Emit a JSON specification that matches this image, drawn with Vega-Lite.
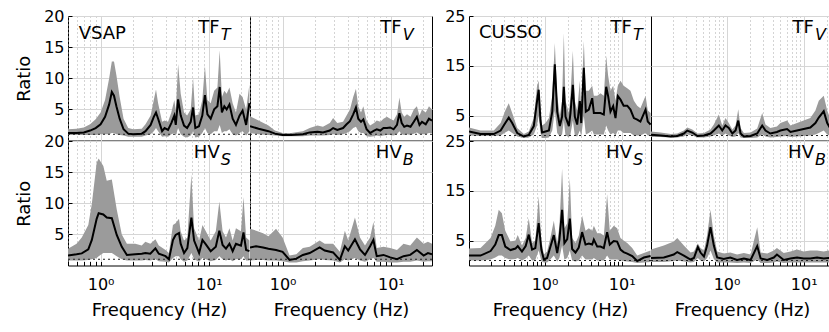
{
"$schema": "https://vega.github.io/schema/vega-lite/v6.json",
"autosize": {"type": "pad"},
"padding": {"left": 15, "top": 7, "right": 0, "bottom": 0},
"spacing": 11,
"datasets": {
"vsap": [
{"k":"label","r":"TF","c":1,"main":"TF","sub":"T"},
{"k":"label","r":"TF","c":2,"main":"TF","sub":"V"},
{"k":"label","r":"HV","c":1,"main":"HV","sub":"S"},
{"k":"label","r":"HV","c":2,"main":"HV","sub":"B"},
{"k":"site","r":"TF","c":1,"name":"VSAP"},
{"r":"TF","c":1,"f":0.5,"m":1.2,"lo":0.9,"hi":1.8},
{"r":"TF","c":1,"f":0.6,"m":1.2,"lo":0.9,"hi":1.9},
{"r":"TF","c":1,"f":0.7,"m":1.3,"lo":0.9,"hi":2.1},
{"r":"TF","c":1,"f":0.8,"m":1.6,"lo":0.9,"hi":2.6},
{"r":"TF","c":1,"f":0.9,"m":2.0,"lo":0.9,"hi":3.4},
{"r":"TF","c":1,"f":1.0,"m":2.6,"lo":1.0,"hi":4.5},
{"r":"TF","c":1,"f":1.1,"m":3.8,"lo":1.0,"hi":6.5},
{"r":"TF","c":1,"f":1.2,"m":5.8,"lo":1.0,"hi":10.0},
{"r":"TF","c":1,"f":1.27,"m":7.8,"lo":1.2,"hi":12.7},
{"r":"TF","c":1,"f":1.33,"m":7.2,"lo":1.2,"hi":12.7},
{"r":"TF","c":1,"f":1.4,"m":5.5,"lo":1.0,"hi":10.5},
{"r":"TF","c":1,"f":1.5,"m":3.5,"lo":0.9,"hi":7.0},
{"r":"TF","c":1,"f":1.63,"m":1.8,"lo":0.8,"hi":3.5},
{"r":"TF","c":1,"f":1.8,"m":1.1,"lo":0.6,"hi":2.0},
{"r":"TF","c":1,"f":2.0,"m":1.0,"lo":0.6,"hi":1.8},
{"r":"TF","c":1,"f":2.4,"m":1.1,"lo":0.6,"hi":1.9},
{"r":"TF","c":1,"f":2.6,"m":1.5,"lo":0.8,"hi":2.6},
{"r":"TF","c":1,"f":2.9,"m":2.5,"lo":1.0,"hi":4.0},
{"r":"TF","c":1,"f":3.1,"m":3.8,"lo":1.5,"hi":6.5},
{"r":"TF","c":1,"f":3.25,"m":4.5,"lo":2.0,"hi":8.2},
{"r":"TF","c":1,"f":3.4,"m":3.5,"lo":1.5,"hi":6.0},
{"r":"TF","c":1,"f":3.7,"m":1.5,"lo":0.6,"hi":3.0},
{"r":"TF","c":1,"f":3.9,"m":2.0,"lo":0.7,"hi":3.2},
{"r":"TF","c":1,"f":4.2,"m":1.7,"lo":0.6,"hi":3.0},
{"r":"TF","c":1,"f":4.5,"m":2.8,"lo":1.0,"hi":4.5},
{"r":"TF","c":1,"f":4.8,"m":4.0,"lo":1.2,"hi":6.5},
{"r":"TF","c":1,"f":4.95,"m":2.5,"lo":0.8,"hi":4.8},
{"r":"TF","c":1,"f":5.2,"m":6.6,"lo":2.0,"hi":12.3},
{"r":"TF","c":1,"f":5.5,"m":4.0,"lo":1.0,"hi":7.5},
{"r":"TF","c":1,"f":5.9,"m":2.4,"lo":0.6,"hi":4.5},
{"r":"TF","c":1,"f":6.3,"m":2.0,"lo":0.5,"hi":4.0},
{"r":"TF","c":1,"f":6.8,"m":3.0,"lo":0.8,"hi":5.0},
{"r":"TF","c":1,"f":7.15,"m":5.3,"lo":1.5,"hi":10.0},
{"r":"TF","c":1,"f":7.5,"m":2.0,"lo":0.5,"hi":4.0},
{"r":"TF","c":1,"f":8.1,"m":2.3,"lo":0.6,"hi":4.2},
{"r":"TF","c":1,"f":8.7,"m":4.0,"lo":1.2,"hi":6.5},
{"r":"TF","c":1,"f":9.2,"m":7.3,"lo":2.0,"hi":12.0},
{"r":"TF","c":1,"f":9.7,"m":4.2,"lo":1.2,"hi":6.5},
{"r":"TF","c":1,"f":10.4,"m":3.5,"lo":1.0,"hi":6.0},
{"r":"TF","c":1,"f":11.2,"m":5.0,"lo":1.5,"hi":8.0},
{"r":"TF","c":1,"f":12.0,"m":5.5,"lo":1.5,"hi":8.5},
{"r":"TF","c":1,"f":12.6,"m":8.6,"lo":2.5,"hi":14.5},
{"r":"TF","c":1,"f":13.2,"m":4.5,"lo":1.2,"hi":7.0},
{"r":"TF","c":1,"f":13.9,"m":5.5,"lo":1.5,"hi":8.0},
{"r":"TF","c":1,"f":14.6,"m":5.0,"lo":1.5,"hi":7.5},
{"r":"TF","c":1,"f":15.5,"m":5.8,"lo":1.8,"hi":8.5},
{"r":"TF","c":1,"f":16.6,"m":3.5,"lo":1.0,"hi":6.0},
{"r":"TF","c":1,"f":17.8,"m":2.5,"lo":0.8,"hi":4.5},
{"r":"TF","c":1,"f":19.2,"m":4.0,"lo":1.2,"hi":7.5},
{"r":"TF","c":1,"f":20.5,"m":4.8,"lo":1.5,"hi":7.0},
{"r":"TF","c":1,"f":22.1,"m":2.5,"lo":0.8,"hi":5.0},
{"r":"TF","c":1,"f":23.7,"m":6.0,"lo":1.5,"hi":9.0},
{"r":"TF","c":2,"f":0.5,"m":2.3,"lo":1.2,"hi":3.9},
{"r":"TF","c":2,"f":0.6,"m":1.9,"lo":1.0,"hi":3.2},
{"r":"TF","c":2,"f":0.74,"m":1.5,"lo":0.9,"hi":2.4},
{"r":"TF","c":2,"f":0.85,"m":1.1,"lo":0.8,"hi":1.6},
{"r":"TF","c":2,"f":1.0,"m":0.9,"lo":0.7,"hi":1.2},
{"r":"TF","c":2,"f":1.2,"m":0.9,"lo":0.7,"hi":1.2},
{"r":"TF","c":2,"f":1.54,"m":1.0,"lo":0.7,"hi":1.5},
{"r":"TF","c":2,"f":1.78,"m":1.3,"lo":0.8,"hi":2.0},
{"r":"TF","c":2,"f":2.1,"m":1.4,"lo":0.8,"hi":2.4},
{"r":"TF","c":2,"f":2.36,"m":1.3,"lo":0.8,"hi":2.2},
{"r":"TF","c":2,"f":2.73,"m":1.6,"lo":0.9,"hi":2.8},
{"r":"TF","c":2,"f":2.93,"m":2.0,"lo":1.0,"hi":3.6},
{"r":"TF","c":2,"f":3.2,"m":1.7,"lo":0.9,"hi":2.8},
{"r":"TF","c":2,"f":3.62,"m":2.0,"lo":1.0,"hi":3.0},
{"r":"TF","c":2,"f":3.9,"m":2.6,"lo":1.2,"hi":4.0},
{"r":"TF","c":2,"f":4.19,"m":3.1,"lo":1.5,"hi":5.0},
{"r":"TF","c":2,"f":4.49,"m":4.2,"lo":2.0,"hi":7.0},
{"r":"TF","c":2,"f":4.76,"m":5.3,"lo":2.2,"hi":8.3},
{"r":"TF","c":2,"f":5.0,"m":3.5,"lo":1.5,"hi":5.5},
{"r":"TF","c":2,"f":5.3,"m":3.0,"lo":1.2,"hi":4.5},
{"r":"TF","c":2,"f":5.57,"m":3.4,"lo":1.2,"hi":5.5},
{"r":"TF","c":2,"f":5.97,"m":1.8,"lo":0.7,"hi":3.2},
{"r":"TF","c":2,"f":6.43,"m":1.2,"lo":0.6,"hi":2.4},
{"r":"TF","c":2,"f":7.0,"m":1.6,"lo":0.7,"hi":2.8},
{"r":"TF","c":2,"f":7.41,"m":1.8,"lo":0.8,"hi":3.2},
{"r":"TF","c":2,"f":8.0,"m":1.6,"lo":0.7,"hi":3.0},
{"r":"TF","c":2,"f":8.55,"m":2.0,"lo":0.8,"hi":3.5},
{"r":"TF","c":2,"f":9.2,"m":2.0,"lo":0.9,"hi":3.8},
{"r":"TF","c":2,"f":9.86,"m":2.1,"lo":0.9,"hi":3.5},
{"r":"TF","c":2,"f":10.6,"m":1.8,"lo":0.8,"hi":3.2},
{"r":"TF","c":2,"f":11.4,"m":2.5,"lo":1.0,"hi":4.2},
{"r":"TF","c":2,"f":12.0,"m":4.4,"lo":1.5,"hi":6.9},
{"r":"TF","c":2,"f":12.6,"m":2.8,"lo":1.0,"hi":4.5},
{"r":"TF","c":2,"f":13.3,"m":2.2,"lo":0.9,"hi":3.8},
{"r":"TF","c":2,"f":14.1,"m":2.4,"lo":1.0,"hi":4.2},
{"r":"TF","c":2,"f":15.2,"m":2.2,"lo":0.9,"hi":3.8},
{"r":"TF","c":2,"f":16.3,"m":3.0,"lo":1.1,"hi":5.0},
{"r":"TF","c":2,"f":17.4,"m":3.8,"lo":1.3,"hi":5.5},
{"r":"TF","c":2,"f":18.4,"m":2.5,"lo":1.0,"hi":4.0},
{"r":"TF","c":2,"f":19.4,"m":3.0,"lo":1.0,"hi":5.0},
{"r":"TF","c":2,"f":21.0,"m":2.6,"lo":1.0,"hi":4.5},
{"r":"TF","c":2,"f":22.5,"m":3.5,"lo":1.2,"hi":5.5},
{"r":"TF","c":2,"f":24.0,"m":3.2,"lo":1.2,"hi":5.0},
{"r":"HV","c":1,"f":0.5,"m":1.6,"lo":0.8,"hi":2.7},
{"r":"HV","c":1,"f":0.6,"m":1.8,"lo":0.8,"hi":3.5},
{"r":"HV","c":1,"f":0.67,"m":1.95,"lo":0.8,"hi":4.5},
{"r":"HV","c":1,"f":0.77,"m":2.6,"lo":0.9,"hi":6.5},
{"r":"HV","c":1,"f":0.83,"m":4.1,"lo":1.0,"hi":9.9},
{"r":"HV","c":1,"f":0.92,"m":7.5,"lo":1.2,"hi":16.5},
{"r":"HV","c":1,"f":0.96,"m":8.4,"lo":1.5,"hi":17.2},
{"r":"HV","c":1,"f":1.06,"m":8.2,"lo":2.0,"hi":16.0},
{"r":"HV","c":1,"f":1.14,"m":7.7,"lo":2.0,"hi":13.6},
{"r":"HV","c":1,"f":1.27,"m":7.6,"lo":2.0,"hi":13.8},
{"r":"HV","c":1,"f":1.41,"m":4.9,"lo":1.5,"hi":9.0},
{"r":"HV","c":1,"f":1.57,"m":3.0,"lo":1.0,"hi":5.0},
{"r":"HV","c":1,"f":1.75,"m":1.7,"lo":0.8,"hi":3.5},
{"r":"HV","c":1,"f":2.09,"m":1.8,"lo":0.8,"hi":3.5},
{"r":"HV","c":1,"f":2.4,"m":1.9,"lo":0.8,"hi":3.2},
{"r":"HV","c":1,"f":2.59,"m":2.0,"lo":0.9,"hi":3.8},
{"r":"HV","c":1,"f":2.88,"m":1.9,"lo":0.8,"hi":3.5},
{"r":"HV","c":1,"f":3.21,"m":2.75,"lo":1.0,"hi":4.2},
{"r":"HV","c":1,"f":3.45,"m":1.9,"lo":0.7,"hi":3.2},
{"r":"HV","c":1,"f":3.98,"m":1.5,"lo":0.6,"hi":2.5},
{"r":"HV","c":1,"f":4.28,"m":1.0,"lo":0.5,"hi":2.0},
{"r":"HV","c":1,"f":4.66,"m":4.1,"lo":1.2,"hi":6.5},
{"r":"HV","c":1,"f":4.93,"m":4.9,"lo":1.5,"hi":6.8},
{"r":"HV","c":1,"f":5.3,"m":5.2,"lo":1.5,"hi":7.5},
{"r":"HV","c":1,"f":5.49,"m":3.5,"lo":1.0,"hi":5.5},
{"r":"HV","c":1,"f":5.9,"m":2.0,"lo":0.6,"hi":4.0},
{"r":"HV","c":1,"f":6.33,"m":2.8,"lo":0.8,"hi":4.5},
{"r":"HV","c":1,"f":6.9,"m":7.7,"lo":2.0,"hi":14.6},
{"r":"HV","c":1,"f":7.31,"m":4.0,"lo":1.0,"hi":6.0},
{"r":"HV","c":1,"f":8.13,"m":2.0,"lo":0.6,"hi":4.0},
{"r":"HV","c":1,"f":8.73,"m":4.1,"lo":1.2,"hi":6.5},
{"r":"HV","c":1,"f":9.38,"m":3.4,"lo":1.0,"hi":5.5},
{"r":"HV","c":1,"f":10.4,"m":2.3,"lo":0.7,"hi":4.0},
{"r":"HV","c":1,"f":11.6,"m":3.0,"lo":0.9,"hi":5.5},
{"r":"HV","c":1,"f":12.5,"m":5.6,"lo":1.5,"hi":10.3},
{"r":"HV","c":1,"f":13.4,"m":3.3,"lo":1.0,"hi":5.5},
{"r":"HV","c":1,"f":14.4,"m":2.7,"lo":0.8,"hi":4.5},
{"r":"HV","c":1,"f":15.5,"m":3.5,"lo":1.0,"hi":6.0},
{"r":"HV","c":1,"f":16.6,"m":2.3,"lo":0.7,"hi":4.0},
{"r":"HV","c":1,"f":17.8,"m":3.5,"lo":1.0,"hi":6.0},
{"r":"HV","c":1,"f":19.8,"m":3.2,"lo":1.0,"hi":5.5},
{"r":"HV","c":1,"f":20.9,"m":5.3,"lo":1.5,"hi":11.0},
{"r":"HV","c":1,"f":22.1,"m":2.5,"lo":0.8,"hi":4.5},
{"r":"HV","c":1,"f":23.7,"m":2.3,"lo":0.8,"hi":4.0},
{"r":"HV","c":2,"f":0.5,"m":2.9,"lo":0.8,"hi":5.9},
{"r":"HV","c":2,"f":0.57,"m":3.1,"lo":0.9,"hi":5.6},
{"r":"HV","c":2,"f":0.66,"m":2.9,"lo":0.9,"hi":5.2},
{"r":"HV","c":2,"f":0.74,"m":2.7,"lo":0.8,"hi":4.7},
{"r":"HV","c":2,"f":0.87,"m":2.5,"lo":0.8,"hi":5.9},
{"r":"HV","c":2,"f":1.0,"m":2.2,"lo":0.7,"hi":4.5},
{"r":"HV","c":2,"f":1.16,"m":0.9,"lo":0.5,"hi":1.6},
{"r":"HV","c":2,"f":1.34,"m":1.1,"lo":0.5,"hi":1.8},
{"r":"HV","c":2,"f":1.54,"m":1.7,"lo":0.7,"hi":2.8},
{"r":"HV","c":2,"f":1.78,"m":2.0,"lo":0.8,"hi":3.0},
{"r":"HV","c":2,"f":2.2,"m":2.9,"lo":1.0,"hi":4.0},
{"r":"HV","c":2,"f":2.45,"m":2.4,"lo":0.9,"hi":3.5},
{"r":"HV","c":2,"f":2.93,"m":2.1,"lo":0.8,"hi":3.5},
{"r":"HV","c":2,"f":3.38,"m":0.9,"lo":0.5,"hi":2.2},
{"r":"HV","c":2,"f":3.76,"m":3.1,"lo":1.0,"hi":5.6},
{"r":"HV","c":2,"f":4.04,"m":2.4,"lo":0.8,"hi":4.0},
{"r":"HV","c":2,"f":4.66,"m":4.2,"lo":1.2,"hi":7.7},
{"r":"HV","c":2,"f":5.19,"m":2.6,"lo":0.8,"hi":4.5},
{"r":"HV","c":2,"f":5.77,"m":1.7,"lo":0.6,"hi":3.2},
{"r":"HV","c":2,"f":6.43,"m":3.1,"lo":1.0,"hi":4.5},
{"r":"HV","c":2,"f":6.9,"m":4.1,"lo":1.2,"hi":7.0},
{"r":"HV","c":2,"f":7.41,"m":1.5,"lo":0.6,"hi":2.8},
{"r":"HV","c":2,"f":8.55,"m":1.7,"lo":0.6,"hi":3.0},
{"r":"HV","c":2,"f":9.86,"m":1.3,"lo":0.5,"hi":2.8},
{"r":"HV","c":2,"f":11.4,"m":1.0,"lo":0.5,"hi":2.5},
{"r":"HV","c":2,"f":13.1,"m":1.5,"lo":0.6,"hi":3.5},
{"r":"HV","c":2,"f":15.1,"m":1.7,"lo":0.6,"hi":3.2},
{"r":"HV","c":2,"f":17.4,"m":2.5,"lo":0.8,"hi":4.5},
{"r":"HV","c":2,"f":20.1,"m":1.6,"lo":0.6,"hi":3.5},
{"r":"HV","c":2,"f":22.0,"m":2.0,"lo":0.7,"hi":3.8},
{"r":"HV","c":2,"f":24.0,"m":1.8,"lo":0.7,"hi":3.5}
],
"cusso": [
{"k":"label","r":"TF","c":1,"main":"TF","sub":"T"},
{"k":"label","r":"TF","c":2,"main":"TF","sub":"V"},
{"k":"label","r":"HV","c":1,"main":"HV","sub":"S"},
{"k":"label","r":"HV","c":2,"main":"HV","sub":"B"},
{"k":"site","r":"TF","c":1,"name":"CUSSO"},
{"r":"TF","c":1,"f":0.105,"m":1.8,"lo":1.0,"hi":2.6},
{"r":"TF","c":1,"f":0.148,"m":1.3,"lo":0.9,"hi":2.0},
{"r":"TF","c":1,"f":0.22,"m":1.3,"lo":0.9,"hi":2.0},
{"r":"TF","c":1,"f":0.27,"m":2.0,"lo":1.0,"hi":3.5},
{"r":"TF","c":1,"f":0.31,"m":3.5,"lo":1.6,"hi":6.0},
{"r":"TF","c":1,"f":0.344,"m":4.6,"lo":2.0,"hi":7.5},
{"r":"TF","c":1,"f":0.381,"m":3.5,"lo":1.5,"hi":5.5},
{"r":"TF","c":1,"f":0.443,"m":1.5,"lo":0.8,"hi":2.5},
{"r":"TF","c":1,"f":0.54,"m":0.8,"lo":0.5,"hi":1.3},
{"r":"TF","c":1,"f":0.625,"m":1.1,"lo":0.6,"hi":1.8},
{"r":"TF","c":1,"f":0.726,"m":2.9,"lo":1.2,"hi":4.5},
{"r":"TF","c":1,"f":0.8,"m":7.9,"lo":3.0,"hi":11.0},
{"r":"TF","c":1,"f":0.84,"m":10.2,"lo":5.0,"hi":12.0},
{"r":"TF","c":1,"f":0.887,"m":4.0,"lo":1.5,"hi":6.0},
{"r":"TF","c":1,"f":0.93,"m":1.6,"lo":0.5,"hi":3.0},
{"r":"TF","c":1,"f":1.03,"m":1.8,"lo":0.5,"hi":3.5},
{"r":"TF","c":1,"f":1.14,"m":2.0,"lo":0.6,"hi":4.5},
{"r":"TF","c":1,"f":1.26,"m":5.8,"lo":2.0,"hi":9.0},
{"r":"TF","c":1,"f":1.36,"m":15.3,"lo":6.0,"hi":19.6},
{"r":"TF","c":1,"f":1.46,"m":5.8,"lo":1.5,"hi":9.0},
{"r":"TF","c":1,"f":1.58,"m":2.9,"lo":0.8,"hi":5.0},
{"r":"TF","c":1,"f":1.69,"m":4.8,"lo":1.2,"hi":8.0},
{"r":"TF","c":1,"f":1.78,"m":10.8,"lo":4.0,"hi":21.6},
{"r":"TF","c":1,"f":1.87,"m":4.8,"lo":1.0,"hi":8.0},
{"r":"TF","c":1,"f":2.07,"m":2.9,"lo":0.7,"hi":5.5},
{"r":"TF","c":1,"f":2.17,"m":5.5,"lo":1.2,"hi":9.0},
{"r":"TF","c":1,"f":2.33,"m":11.2,"lo":4.0,"hi":18.0},
{"r":"TF","c":1,"f":2.47,"m":4.8,"lo":1.0,"hi":8.0},
{"r":"TF","c":1,"f":2.65,"m":3.2,"lo":0.8,"hi":6.0},
{"r":"TF","c":1,"f":2.87,"m":7.9,"lo":2.0,"hi":12.0},
{"r":"TF","c":1,"f":2.99,"m":3.5,"lo":0.8,"hi":6.0},
{"r":"TF","c":1,"f":3.23,"m":14.6,"lo":5.0,"hi":20.0},
{"r":"TF","c":1,"f":3.43,"m":5.8,"lo":1.2,"hi":10.0},
{"r":"TF","c":1,"f":3.75,"m":6.2,"lo":1.5,"hi":10.0},
{"r":"TF","c":1,"f":4.15,"m":8.5,"lo":2.0,"hi":11.0},
{"r":"TF","c":1,"f":4.36,"m":5.5,"lo":1.2,"hi":9.0},
{"r":"TF","c":1,"f":4.82,"m":5.5,"lo":1.2,"hi":9.0},
{"r":"TF","c":1,"f":5.31,"m":5.5,"lo":1.2,"hi":9.5},
{"r":"TF","c":1,"f":5.87,"m":5.2,"lo":1.2,"hi":9.0},
{"r":"TF","c":1,"f":6.3,"m":10.8,"lo":3.0,"hi":17.0},
{"r":"TF","c":1,"f":6.68,"m":8.9,"lo":2.0,"hi":13.0},
{"r":"TF","c":1,"f":7.16,"m":5.8,"lo":1.2,"hi":10.0},
{"r":"TF","c":1,"f":7.76,"m":6.9,"lo":1.5,"hi":11.0},
{"r":"TF","c":1,"f":8.32,"m":4.5,"lo":1.0,"hi":8.0},
{"r":"TF","c":1,"f":8.92,"m":8.9,"lo":2.0,"hi":11.0},
{"r":"TF","c":1,"f":9.66,"m":8.2,"lo":2.0,"hi":12.0},
{"r":"TF","c":1,"f":10.6,"m":7.0,"lo":1.5,"hi":11.0},
{"r":"TF","c":1,"f":11.8,"m":7.0,"lo":1.5,"hi":10.5},
{"r":"TF","c":1,"f":13.0,"m":6.2,"lo":1.5,"hi":10.0},
{"r":"TF","c":1,"f":14.4,"m":4.5,"lo":1.0,"hi":8.0},
{"r":"TF","c":1,"f":15.9,"m":4.2,"lo":1.0,"hi":7.0},
{"r":"TF","c":1,"f":17.5,"m":3.8,"lo":1.0,"hi":6.5},
{"r":"TF","c":1,"f":20.4,"m":6.2,"lo":1.5,"hi":9.0},
{"r":"TF","c":1,"f":21.8,"m":3.8,"lo":1.0,"hi":6.0},
{"r":"TF","c":1,"f":23.7,"m":3.2,"lo":1.0,"hi":5.5},
{"r":"TF","c":2,"f":0.105,"m":1.15,"lo":0.7,"hi":1.8},
{"r":"TF","c":2,"f":0.14,"m":1.0,"lo":0.7,"hi":1.6},
{"r":"TF","c":2,"f":0.19,"m":0.8,"lo":0.6,"hi":1.3},
{"r":"TF","c":2,"f":0.23,"m":0.9,"lo":0.6,"hi":1.4},
{"r":"TF","c":2,"f":0.28,"m":1.4,"lo":0.8,"hi":2.0},
{"r":"TF","c":2,"f":0.31,"m":2.0,"lo":1.2,"hi":2.6},
{"r":"TF","c":2,"f":0.36,"m":1.6,"lo":1.0,"hi":2.2},
{"r":"TF","c":2,"f":0.42,"m":0.9,"lo":0.6,"hi":1.4},
{"r":"TF","c":2,"f":0.51,"m":1.0,"lo":0.6,"hi":1.5},
{"r":"TF","c":2,"f":0.62,"m":1.4,"lo":0.8,"hi":2.2},
{"r":"TF","c":2,"f":0.685,"m":2.0,"lo":1.0,"hi":3.2},
{"r":"TF","c":2,"f":0.795,"m":3.0,"lo":1.4,"hi":5.2},
{"r":"TF","c":2,"f":0.88,"m":2.0,"lo":0.9,"hi":3.0},
{"r":"TF","c":2,"f":0.97,"m":3.0,"lo":1.4,"hi":4.5},
{"r":"TF","c":2,"f":1.07,"m":2.5,"lo":1.0,"hi":3.5},
{"r":"TF","c":2,"f":1.19,"m":1.4,"lo":0.7,"hi":2.2},
{"r":"TF","c":2,"f":1.31,"m":2.0,"lo":0.8,"hi":3.0},
{"r":"TF","c":2,"f":1.42,"m":4.0,"lo":1.5,"hi":6.3},
{"r":"TF","c":2,"f":1.52,"m":1.4,"lo":0.6,"hi":2.5},
{"r":"TF","c":2,"f":1.68,"m":0.8,"lo":0.5,"hi":1.5},
{"r":"TF","c":2,"f":2.05,"m":0.9,"lo":0.5,"hi":1.6},
{"r":"TF","c":2,"f":2.5,"m":1.4,"lo":0.6,"hi":2.4},
{"r":"TF","c":2,"f":2.9,"m":3.0,"lo":1.2,"hi":5.5},
{"r":"TF","c":2,"f":3.2,"m":2.0,"lo":0.8,"hi":3.2},
{"r":"TF","c":2,"f":3.7,"m":1.4,"lo":0.6,"hi":2.5},
{"r":"TF","c":2,"f":4.5,"m":1.7,"lo":0.7,"hi":2.8},
{"r":"TF","c":2,"f":5.0,"m":2.0,"lo":0.8,"hi":3.5},
{"r":"TF","c":2,"f":6.1,"m":2.3,"lo":0.9,"hi":4.0},
{"r":"TF","c":2,"f":6.75,"m":1.7,"lo":0.7,"hi":3.0},
{"r":"TF","c":2,"f":8.2,"m":2.0,"lo":0.8,"hi":3.5},
{"r":"TF","c":2,"f":10.0,"m":2.3,"lo":0.9,"hi":4.0},
{"r":"TF","c":2,"f":12.2,"m":2.6,"lo":1.0,"hi":4.5},
{"r":"TF","c":2,"f":14.2,"m":3.5,"lo":1.2,"hi":6.0},
{"r":"TF","c":2,"f":15.7,"m":4.6,"lo":1.5,"hi":8.0},
{"r":"TF","c":2,"f":18.2,"m":5.9,"lo":2.0,"hi":9.0},
{"r":"TF","c":2,"f":20.2,"m":3.5,"lo":1.2,"hi":6.0},
{"r":"TF","c":2,"f":22.0,"m":2.5,"lo":1.0,"hi":4.5},
{"r":"TF","c":2,"f":24.0,"m":2.3,"lo":1.0,"hi":4.0},
{"r":"HV","c":1,"f":0.105,"m":2.0,"lo":1.0,"hi":3.4},
{"r":"HV","c":1,"f":0.148,"m":2.0,"lo":1.0,"hi":3.5},
{"r":"HV","c":1,"f":0.2,"m":2.9,"lo":1.2,"hi":5.5},
{"r":"HV","c":1,"f":0.23,"m":4.2,"lo":1.6,"hi":8.0},
{"r":"HV","c":1,"f":0.255,"m":6.1,"lo":2.0,"hi":11.2},
{"r":"HV","c":1,"f":0.28,"m":6.1,"lo":2.0,"hi":10.5},
{"r":"HV","c":1,"f":0.31,"m":3.8,"lo":1.5,"hi":7.0},
{"r":"HV","c":1,"f":0.362,"m":3.1,"lo":1.2,"hi":4.8},
{"r":"HV","c":1,"f":0.42,"m":3.4,"lo":1.3,"hi":5.0},
{"r":"HV","c":1,"f":0.45,"m":3.9,"lo":1.5,"hi":6.1},
{"r":"HV","c":1,"f":0.51,"m":2.8,"lo":1.0,"hi":4.0},
{"r":"HV","c":1,"f":0.57,"m":3.9,"lo":1.4,"hi":5.5},
{"r":"HV","c":1,"f":0.625,"m":6.2,"lo":2.0,"hi":9.5},
{"r":"HV","c":1,"f":0.69,"m":3.2,"lo":1.0,"hi":4.5},
{"r":"HV","c":1,"f":0.76,"m":3.5,"lo":1.1,"hi":5.0},
{"r":"HV","c":1,"f":0.84,"m":8.5,"lo":3.0,"hi":13.9},
{"r":"HV","c":1,"f":0.91,"m":3.2,"lo":0.9,"hi":5.0},
{"r":"HV","c":1,"f":0.98,"m":1.2,"lo":0.6,"hi":2.2},
{"r":"HV","c":1,"f":1.08,"m":1.5,"lo":0.6,"hi":2.8},
{"r":"HV","c":1,"f":1.19,"m":3.7,"lo":1.2,"hi":5.5},
{"r":"HV","c":1,"f":1.32,"m":6.1,"lo":2.0,"hi":9.0},
{"r":"HV","c":1,"f":1.46,"m":2.5,"lo":0.8,"hi":4.5},
{"r":"HV","c":1,"f":1.56,"m":5.2,"lo":1.5,"hi":8.0},
{"r":"HV","c":1,"f":1.69,"m":11.2,"lo":4.0,"hi":19.5},
{"r":"HV","c":1,"f":1.81,"m":4.5,"lo":1.2,"hi":7.5},
{"r":"HV","c":1,"f":1.97,"m":5.3,"lo":1.5,"hi":8.5},
{"r":"HV","c":1,"f":2.13,"m":9.4,"lo":3.0,"hi":17.5},
{"r":"HV","c":1,"f":2.28,"m":3.3,"lo":1.0,"hi":5.5},
{"r":"HV","c":1,"f":2.52,"m":2.6,"lo":0.8,"hi":4.5},
{"r":"HV","c":1,"f":2.78,"m":3.6,"lo":1.0,"hi":6.0},
{"r":"HV","c":1,"f":3.07,"m":6.7,"lo":2.0,"hi":10.0},
{"r":"HV","c":1,"f":3.4,"m":4.2,"lo":1.2,"hi":7.0},
{"r":"HV","c":1,"f":3.75,"m":4.4,"lo":1.2,"hi":7.5},
{"r":"HV","c":1,"f":4.15,"m":4.2,"lo":1.2,"hi":7.0},
{"r":"HV","c":1,"f":4.36,"m":5.2,"lo":1.5,"hi":8.0},
{"r":"HV","c":1,"f":4.82,"m":3.8,"lo":1.0,"hi":6.5},
{"r":"HV","c":1,"f":5.31,"m":3.8,"lo":1.0,"hi":6.5},
{"r":"HV","c":1,"f":5.87,"m":3.5,"lo":1.0,"hi":6.0},
{"r":"HV","c":1,"f":6.48,"m":6.7,"lo":2.0,"hi":14.3},
{"r":"HV","c":1,"f":7.01,"m":4.2,"lo":1.2,"hi":7.0},
{"r":"HV","c":1,"f":7.9,"m":4.9,"lo":1.2,"hi":8.0},
{"r":"HV","c":1,"f":8.74,"m":4.8,"lo":1.2,"hi":7.5},
{"r":"HV","c":1,"f":9.66,"m":3.2,"lo":1.0,"hi":5.5},
{"r":"HV","c":1,"f":10.6,"m":2.7,"lo":0.9,"hi":5.0},
{"r":"HV","c":1,"f":11.8,"m":2.4,"lo":0.8,"hi":4.5},
{"r":"HV","c":1,"f":13.7,"m":1.9,"lo":0.7,"hi":3.5},
{"r":"HV","c":1,"f":15.9,"m":0.9,"lo":0.5,"hi":2.0},
{"r":"HV","c":1,"f":19.4,"m":1.6,"lo":0.6,"hi":2.5},
{"r":"HV","c":1,"f":23.7,"m":1.9,"lo":0.7,"hi":3.0},
{"r":"HV","c":2,"f":0.105,"m":1.5,"lo":0.7,"hi":3.2},
{"r":"HV","c":2,"f":0.154,"m":1.6,"lo":0.7,"hi":4.0},
{"r":"HV","c":2,"f":0.207,"m":2.2,"lo":0.9,"hi":4.8},
{"r":"HV","c":2,"f":0.23,"m":2.7,"lo":1.0,"hi":5.5},
{"r":"HV","c":2,"f":0.28,"m":2.0,"lo":0.8,"hi":4.0},
{"r":"HV","c":2,"f":0.342,"m":1.2,"lo":0.6,"hi":2.6},
{"r":"HV","c":2,"f":0.378,"m":1.5,"lo":0.7,"hi":2.8},
{"r":"HV","c":2,"f":0.425,"m":3.7,"lo":1.5,"hi":4.4},
{"r":"HV","c":2,"f":0.46,"m":2.6,"lo":1.0,"hi":3.5},
{"r":"HV","c":2,"f":0.51,"m":1.8,"lo":0.8,"hi":3.0},
{"r":"HV","c":2,"f":0.56,"m":4.0,"lo":1.5,"hi":6.0},
{"r":"HV","c":2,"f":0.62,"m":7.7,"lo":3.0,"hi":11.2},
{"r":"HV","c":2,"f":0.685,"m":4.0,"lo":1.3,"hi":6.0},
{"r":"HV","c":2,"f":0.757,"m":1.6,"lo":0.6,"hi":2.8},
{"r":"HV","c":2,"f":0.92,"m":1.3,"lo":0.6,"hi":2.4},
{"r":"HV","c":2,"f":1.12,"m":1.6,"lo":0.6,"hi":2.6},
{"r":"HV","c":2,"f":1.37,"m":1.1,"lo":0.5,"hi":2.2},
{"r":"HV","c":2,"f":1.68,"m":1.4,"lo":0.6,"hi":2.5},
{"r":"HV","c":2,"f":2.05,"m":1.1,"lo":0.5,"hi":2.2},
{"r":"HV","c":2,"f":2.5,"m":3.9,"lo":1.2,"hi":7.7},
{"r":"HV","c":2,"f":2.77,"m":1.4,"lo":0.5,"hi":2.6},
{"r":"HV","c":2,"f":3.38,"m":1.1,"lo":0.5,"hi":2.4},
{"r":"HV","c":2,"f":4.1,"m":1.6,"lo":0.6,"hi":3.0},
{"r":"HV","c":2,"f":4.5,"m":2.2,"lo":0.8,"hi":3.5},
{"r":"HV","c":2,"f":5.52,"m":1.1,"lo":0.5,"hi":2.5},
{"r":"HV","c":2,"f":6.75,"m":1.4,"lo":0.6,"hi":2.8},
{"r":"HV","c":2,"f":8.2,"m":1.6,"lo":0.6,"hi":3.2},
{"r":"HV","c":2,"f":10.0,"m":1.4,"lo":0.6,"hi":2.8},
{"r":"HV","c":2,"f":12.2,"m":1.4,"lo":0.6,"hi":3.0},
{"r":"HV","c":2,"f":14.9,"m":1.6,"lo":0.6,"hi":3.0},
{"r":"HV","c":2,"f":18.2,"m":1.4,"lo":0.6,"hi":2.8},
{"r":"HV","c":2,"f":21.0,"m":1.5,"lo":0.6,"hi":3.0},
{"r":"HV","c":2,"f":24.0,"m":1.4,"lo":0.6,"hi":2.8}
]
},
"hconcat": [
{"columns": 2, "spacing": 0, "bounds": "flush", "concat": [
{"data": {"name": "vsap"}, "transform": [{"filter": "datum.r == 'TF' && datum.c == 1"}], "width": 182, "height": 124.5,
 "layer": [
  {"transform": [{"filter": "isValid(datum.f)"}], "mark": {"type": "area", "color": "#9b9b9b", "clip": true},
   "encoding": {
    "x": {"field": "f", "type": "quantitative", "scale": {"type": "log", "domain": [0.5, 24], "nice": false},
     "axis": {"title": null, "labels": false, "ticks": false, "values": [0.5,0.6,0.7,0.8,0.9,1,2,3,4,5,6,7,8,9,10,20],
     "gridDash": {"condition": {"test": "abs(log(datum.value)/LN10 - round(log(datum.value)/LN10)) < 0.000001", "value": []}, "value": [1, 3]},
     "gridColor": {"condition": {"test": "abs(log(datum.value)/LN10 - round(log(datum.value)/LN10)) < 0.000001", "value": "#d6d6d6"}, "value": "#a8a8a8"}}},
    "y": {"field": "lo", "type": "quantitative", "scale": {"domain": [0, 20], "nice": false}, "axis": {"title": "Ratio", "labelOverlap": false, "values": [5, 10, 15, 20]}},
    "y2": {"field": "hi"}}},
  {"transform": [{"filter": "datum.k == 'label'"}], "mark": {"type": "rule", "strokeDash": [2, 3], "color": "#222222"},
   "encoding": {"y": {"datum": 1, "type": "quantitative", "scale": {"domain": [0, 20], "nice": false}}}},
  {"transform": [{"filter": "isValid(datum.f)"}], "mark": {"type": "line", "color": "black", "strokeWidth": 2, "clip": true},
   "encoding": {"x": {"field": "f", "type": "quantitative", "scale": {"type": "log", "domain": [0.5, 24], "nice": false}},
    "y": {"field": "m", "type": "quantitative", "scale": {"domain": [0, 20], "nice": false}}}},
  {"transform": [{"filter": "datum.k == 'label'"}], "mark": {"type": "text", "align": "right", "fontSize": 18},
   "encoding": {"x": {"datum": 12.6, "type": "quantitative", "scale": {"type": "log", "domain": [0.5, 24], "nice": false}},
    "y": {"datum": 17.3, "type": "quantitative", "scale": {"domain": [0, 20], "nice": false}}, "text": {"field": "main"}}},
  {"transform": [{"filter": "datum.k == 'label'"}], "mark": {"type": "text", "align": "left", "fontSize": 16, "fontStyle": "italic", "dx": 1, "dy": 7},
   "encoding": {"x": {"datum": 12.6, "type": "quantitative", "scale": {"type": "log", "domain": [0.5, 24], "nice": false}},
    "y": {"datum": 17.3, "type": "quantitative", "scale": {"domain": [0, 20], "nice": false}}, "text": {"field": "sub"}}},
  {"transform": [{"filter": "datum.k == 'site'"}], "mark": {"type": "text", "align": "left", "fontSize": 18},
   "encoding": {"x": {"datum": 0.627, "type": "quantitative", "scale": {"type": "log", "domain": [0.5, 24], "nice": false}},
    "y": {"datum": 16.3, "type": "quantitative", "scale": {"domain": [0, 20], "nice": false}}, "text": {"field": "name"}}}
 ]},
{"data": {"name": "vsap"}, "transform": [{"filter": "datum.r == 'TF' && datum.c == 2"}], "width": 182, "height": 124.5,
 "layer": [
  {"transform": [{"filter": "isValid(datum.f)"}], "mark": {"type": "area", "color": "#9b9b9b", "clip": true},
   "encoding": {
    "x": {"field": "f", "type": "quantitative", "scale": {"type": "log", "domain": [0.5, 24], "nice": false},
     "axis": {"title": null, "labels": false, "ticks": false, "values": [0.5,0.6,0.7,0.8,0.9,1,2,3,4,5,6,7,8,9,10,20],
     "gridDash": {"condition": {"test": "abs(log(datum.value)/LN10 - round(log(datum.value)/LN10)) < 0.000001", "value": []}, "value": [1, 3]},
     "gridColor": {"condition": {"test": "abs(log(datum.value)/LN10 - round(log(datum.value)/LN10)) < 0.000001", "value": "#d6d6d6"}, "value": "#a8a8a8"}}},
    "y": {"field": "lo", "type": "quantitative", "scale": {"domain": [0, 20], "nice": false}, "axis": {"title": null, "labels": false, "ticks": false, "values": [5, 10, 15, 20]}},
    "y2": {"field": "hi"}}},
  {"transform": [{"filter": "datum.k == 'label'"}], "mark": {"type": "rule", "strokeDash": [2, 3], "color": "#222222"},
   "encoding": {"y": {"datum": 1, "type": "quantitative", "scale": {"domain": [0, 20], "nice": false}}}},
  {"transform": [{"filter": "isValid(datum.f)"}], "mark": {"type": "line", "color": "black", "strokeWidth": 2, "clip": true},
   "encoding": {"x": {"field": "f", "type": "quantitative", "scale": {"type": "log", "domain": [0.5, 24], "nice": false}},
    "y": {"field": "m", "type": "quantitative", "scale": {"domain": [0, 20], "nice": false}}}},
  {"transform": [{"filter": "datum.k == 'label'"}], "mark": {"type": "text", "align": "right", "fontSize": 18},
   "encoding": {"x": {"datum": 12.6, "type": "quantitative", "scale": {"type": "log", "domain": [0.5, 24], "nice": false}},
    "y": {"datum": 17.3, "type": "quantitative", "scale": {"domain": [0, 20], "nice": false}}, "text": {"field": "main"}}},
  {"transform": [{"filter": "datum.k == 'label'"}], "mark": {"type": "text", "align": "left", "fontSize": 16, "fontStyle": "italic", "dx": 1, "dy": 7},
   "encoding": {"x": {"datum": 12.6, "type": "quantitative", "scale": {"type": "log", "domain": [0.5, 24], "nice": false}},
    "y": {"datum": 17.3, "type": "quantitative", "scale": {"domain": [0, 20], "nice": false}}, "text": {"field": "sub"}}}
 ]},
{"data": {"name": "vsap"}, "transform": [{"filter": "datum.r == 'HV' && datum.c == 1"}], "width": 182, "height": 124.5,
 "layer": [
  {"transform": [{"filter": "isValid(datum.f)"}], "mark": {"type": "area", "color": "#9b9b9b", "clip": true},
   "encoding": {
    "x": {"field": "f", "type": "quantitative", "scale": {"type": "log", "domain": [0.5, 24], "nice": false},
     "axis": {"title": "Frequency (Hz)", "values": [0.5,0.6,0.7,0.8,0.9,1,2,3,4,5,6,7,8,9,10,20], "labelOverlap": false, "labelFlush": false,
     "labelExpr": "abs(log(datum.value)/LN10 - round(log(datum.value)/LN10)) < 0.000001 ? (round(log(datum.value)/LN10) == 0 ? '10⁰' : '10¹') : ''",
     "gridDash": {"condition": {"test": "abs(log(datum.value)/LN10 - round(log(datum.value)/LN10)) < 0.000001", "value": []}, "value": [1, 3]},
     "gridColor": {"condition": {"test": "abs(log(datum.value)/LN10 - round(log(datum.value)/LN10)) < 0.000001", "value": "#d6d6d6"}, "value": "#a8a8a8"}}},
    "y": {"field": "lo", "type": "quantitative", "scale": {"domain": [0, 20], "nice": false}, "axis": {"title": "Ratio", "labelOverlap": false, "values": [5, 10, 15, 20]}},
    "y2": {"field": "hi"}}},
  {"transform": [{"filter": "datum.k == 'label'"}], "mark": {"type": "rule", "strokeDash": [2, 3], "color": "#222222"},
   "encoding": {"y": {"datum": 1, "type": "quantitative", "scale": {"domain": [0, 20], "nice": false}}}},
  {"transform": [{"filter": "isValid(datum.f)"}], "mark": {"type": "line", "color": "black", "strokeWidth": 2, "clip": true},
   "encoding": {"x": {"field": "f", "type": "quantitative", "scale": {"type": "log", "domain": [0.5, 24], "nice": false}},
    "y": {"field": "m", "type": "quantitative", "scale": {"domain": [0, 20], "nice": false}}}},
  {"transform": [{"filter": "datum.k == 'label'"}], "mark": {"type": "text", "align": "right", "fontSize": 18},
   "encoding": {"x": {"datum": 12.6, "type": "quantitative", "scale": {"type": "log", "domain": [0.5, 24], "nice": false}},
    "y": {"datum": 17.3, "type": "quantitative", "scale": {"domain": [0, 20], "nice": false}}, "text": {"field": "main"}}},
  {"transform": [{"filter": "datum.k == 'label'"}], "mark": {"type": "text", "align": "left", "fontSize": 16, "fontStyle": "italic", "dx": 1, "dy": 7},
   "encoding": {"x": {"datum": 12.6, "type": "quantitative", "scale": {"type": "log", "domain": [0.5, 24], "nice": false}},
    "y": {"datum": 17.3, "type": "quantitative", "scale": {"domain": [0, 20], "nice": false}}, "text": {"field": "sub"}}}
 ]},
{"data": {"name": "vsap"}, "transform": [{"filter": "datum.r == 'HV' && datum.c == 2"}], "width": 182, "height": 124.5,
 "layer": [
  {"transform": [{"filter": "isValid(datum.f)"}], "mark": {"type": "area", "color": "#9b9b9b", "clip": true},
   "encoding": {
    "x": {"field": "f", "type": "quantitative", "scale": {"type": "log", "domain": [0.5, 24], "nice": false},
     "axis": {"title": "Frequency (Hz)", "values": [0.5,0.6,0.7,0.8,0.9,1,2,3,4,5,6,7,8,9,10,20], "labelOverlap": false, "labelFlush": false,
     "labelExpr": "abs(log(datum.value)/LN10 - round(log(datum.value)/LN10)) < 0.000001 ? (round(log(datum.value)/LN10) == 0 ? '10⁰' : '10¹') : ''",
     "gridDash": {"condition": {"test": "abs(log(datum.value)/LN10 - round(log(datum.value)/LN10)) < 0.000001", "value": []}, "value": [1, 3]},
     "gridColor": {"condition": {"test": "abs(log(datum.value)/LN10 - round(log(datum.value)/LN10)) < 0.000001", "value": "#d6d6d6"}, "value": "#a8a8a8"}}},
    "y": {"field": "lo", "type": "quantitative", "scale": {"domain": [0, 20], "nice": false}, "axis": {"title": null, "labels": false, "ticks": false, "values": [5, 10, 15, 20]}},
    "y2": {"field": "hi"}}},
  {"transform": [{"filter": "datum.k == 'label'"}], "mark": {"type": "rule", "strokeDash": [2, 3], "color": "#222222"},
   "encoding": {"y": {"datum": 1, "type": "quantitative", "scale": {"domain": [0, 20], "nice": false}}}},
  {"transform": [{"filter": "isValid(datum.f)"}], "mark": {"type": "line", "color": "black", "strokeWidth": 2, "clip": true},
   "encoding": {"x": {"field": "f", "type": "quantitative", "scale": {"type": "log", "domain": [0.5, 24], "nice": false}},
    "y": {"field": "m", "type": "quantitative", "scale": {"domain": [0, 20], "nice": false}}}},
  {"transform": [{"filter": "datum.k == 'label'"}], "mark": {"type": "text", "align": "right", "fontSize": 18},
   "encoding": {"x": {"datum": 12.6, "type": "quantitative", "scale": {"type": "log", "domain": [0.5, 24], "nice": false}},
    "y": {"datum": 17.3, "type": "quantitative", "scale": {"domain": [0, 20], "nice": false}}, "text": {"field": "main"}}},
  {"transform": [{"filter": "datum.k == 'label'"}], "mark": {"type": "text", "align": "left", "fontSize": 16, "fontStyle": "italic", "dx": 1, "dy": 7},
   "encoding": {"x": {"datum": 12.6, "type": "quantitative", "scale": {"type": "log", "domain": [0.5, 24], "nice": false}},
    "y": {"datum": 17.3, "type": "quantitative", "scale": {"domain": [0, 20], "nice": false}}, "text": {"field": "sub"}}}
 ]}
]},
{"columns": 2, "spacing": 0, "bounds": "flush", "concat": [
{"data": {"name": "cusso"}, "transform": [{"filter": "datum.r == 'TF' && datum.c == 1"}], "width": 182, "height": 124.5,
 "layer": [
  {"transform": [{"filter": "isValid(datum.f)"}], "mark": {"type": "area", "color": "#9b9b9b", "clip": true},
   "encoding": {
    "x": {"field": "f", "type": "quantitative", "scale": {"type": "log", "domain": [0.105, 24], "nice": false},
     "axis": {"title": null, "labels": false, "ticks": false, "values": [0.2,0.3,0.4,0.5,0.6,0.7,0.8,0.9,1,2,3,4,5,6,7,8,9,10,20],
     "gridDash": {"condition": {"test": "abs(log(datum.value)/LN10 - round(log(datum.value)/LN10)) < 0.000001", "value": []}, "value": [1, 3]},
     "gridColor": {"condition": {"test": "abs(log(datum.value)/LN10 - round(log(datum.value)/LN10)) < 0.000001", "value": "#d6d6d6"}, "value": "#a8a8a8"}}},
    "y": {"field": "lo", "type": "quantitative", "scale": {"domain": [0, 25], "nice": false}, "axis": {"title": null, "labelOverlap": false, "values": [5, 10, 15, 20, 25]}},
    "y2": {"field": "hi"}}},
  {"transform": [{"filter": "datum.k == 'label'"}], "mark": {"type": "rule", "strokeDash": [2, 3], "color": "#222222"},
   "encoding": {"y": {"datum": 1, "type": "quantitative", "scale": {"domain": [0, 25], "nice": false}}}},
  {"transform": [{"filter": "isValid(datum.f)"}], "mark": {"type": "line", "color": "black", "strokeWidth": 2, "clip": true},
   "encoding": {"x": {"field": "f", "type": "quantitative", "scale": {"type": "log", "domain": [0.105, 24], "nice": false}},
    "y": {"field": "m", "type": "quantitative", "scale": {"domain": [0, 25], "nice": false}}}},
  {"transform": [{"filter": "datum.k == 'label'"}], "mark": {"type": "text", "align": "right", "fontSize": 18},
   "encoding": {"x": {"datum": 13.6, "type": "quantitative", "scale": {"type": "log", "domain": [0.105, 24], "nice": false}},
    "y": {"datum": 21.6, "type": "quantitative", "scale": {"domain": [0, 25], "nice": false}}, "text": {"field": "main"}}},
  {"transform": [{"filter": "datum.k == 'label'"}], "mark": {"type": "text", "align": "left", "fontSize": 16, "fontStyle": "italic", "dx": 1, "dy": 7},
   "encoding": {"x": {"datum": 13.6, "type": "quantitative", "scale": {"type": "log", "domain": [0.105, 24], "nice": false}},
    "y": {"datum": 21.6, "type": "quantitative", "scale": {"domain": [0, 25], "nice": false}}, "text": {"field": "sub"}}},
  {"transform": [{"filter": "datum.k == 'site'"}], "mark": {"type": "text", "align": "left", "fontSize": 18},
   "encoding": {"x": {"datum": 0.1416, "type": "quantitative", "scale": {"type": "log", "domain": [0.105, 24], "nice": false}},
    "y": {"datum": 20.56, "type": "quantitative", "scale": {"domain": [0, 25], "nice": false}}, "text": {"field": "name"}}}
 ]},
{"data": {"name": "cusso"}, "transform": [{"filter": "datum.r == 'TF' && datum.c == 2"}], "width": 182, "height": 124.5,
 "layer": [
  {"transform": [{"filter": "isValid(datum.f)"}], "mark": {"type": "area", "color": "#9b9b9b", "clip": true},
   "encoding": {
    "x": {"field": "f", "type": "quantitative", "scale": {"type": "log", "domain": [0.105, 24], "nice": false},
     "axis": {"title": null, "labels": false, "ticks": false, "values": [0.2,0.3,0.4,0.5,0.6,0.7,0.8,0.9,1,2,3,4,5,6,7,8,9,10,20],
     "gridDash": {"condition": {"test": "abs(log(datum.value)/LN10 - round(log(datum.value)/LN10)) < 0.000001", "value": []}, "value": [1, 3]},
     "gridColor": {"condition": {"test": "abs(log(datum.value)/LN10 - round(log(datum.value)/LN10)) < 0.000001", "value": "#d6d6d6"}, "value": "#a8a8a8"}}},
    "y": {"field": "lo", "type": "quantitative", "scale": {"domain": [0, 25], "nice": false}, "axis": {"title": null, "labels": false, "ticks": false, "values": [5, 10, 15, 20, 25]}},
    "y2": {"field": "hi"}}},
  {"transform": [{"filter": "datum.k == 'label'"}], "mark": {"type": "rule", "strokeDash": [2, 3], "color": "#222222"},
   "encoding": {"y": {"datum": 1, "type": "quantitative", "scale": {"domain": [0, 25], "nice": false}}}},
  {"transform": [{"filter": "isValid(datum.f)"}], "mark": {"type": "line", "color": "black", "strokeWidth": 2, "clip": true},
   "encoding": {"x": {"field": "f", "type": "quantitative", "scale": {"type": "log", "domain": [0.105, 24], "nice": false}},
    "y": {"field": "m", "type": "quantitative", "scale": {"domain": [0, 25], "nice": false}}}},
  {"transform": [{"filter": "datum.k == 'label'"}], "mark": {"type": "text", "align": "right", "fontSize": 18},
   "encoding": {"x": {"datum": 13.6, "type": "quantitative", "scale": {"type": "log", "domain": [0.105, 24], "nice": false}},
    "y": {"datum": 21.6, "type": "quantitative", "scale": {"domain": [0, 25], "nice": false}}, "text": {"field": "main"}}},
  {"transform": [{"filter": "datum.k == 'label'"}], "mark": {"type": "text", "align": "left", "fontSize": 16, "fontStyle": "italic", "dx": 1, "dy": 7},
   "encoding": {"x": {"datum": 13.6, "type": "quantitative", "scale": {"type": "log", "domain": [0.105, 24], "nice": false}},
    "y": {"datum": 21.6, "type": "quantitative", "scale": {"domain": [0, 25], "nice": false}}, "text": {"field": "sub"}}}
 ]},
{"data": {"name": "cusso"}, "transform": [{"filter": "datum.r == 'HV' && datum.c == 1"}], "width": 182, "height": 124.5,
 "layer": [
  {"transform": [{"filter": "isValid(datum.f)"}], "mark": {"type": "area", "color": "#9b9b9b", "clip": true},
   "encoding": {
    "x": {"field": "f", "type": "quantitative", "scale": {"type": "log", "domain": [0.105, 24], "nice": false},
     "axis": {"title": "Frequency (Hz)", "values": [0.2,0.3,0.4,0.5,0.6,0.7,0.8,0.9,1,2,3,4,5,6,7,8,9,10,20], "labelOverlap": false, "labelFlush": false,
     "labelExpr": "abs(log(datum.value)/LN10 - round(log(datum.value)/LN10)) < 0.000001 ? (round(log(datum.value)/LN10) == 0 ? '10⁰' : '10¹') : ''",
     "gridDash": {"condition": {"test": "abs(log(datum.value)/LN10 - round(log(datum.value)/LN10)) < 0.000001", "value": []}, "value": [1, 3]},
     "gridColor": {"condition": {"test": "abs(log(datum.value)/LN10 - round(log(datum.value)/LN10)) < 0.000001", "value": "#d6d6d6"}, "value": "#a8a8a8"}}},
    "y": {"field": "lo", "type": "quantitative", "scale": {"domain": [0, 25], "nice": false}, "axis": {"title": null, "labelOverlap": false, "values": [5, 10, 15, 20, 25]}},
    "y2": {"field": "hi"}}},
  {"transform": [{"filter": "datum.k == 'label'"}], "mark": {"type": "rule", "strokeDash": [2, 3], "color": "#222222"},
   "encoding": {"y": {"datum": 1, "type": "quantitative", "scale": {"domain": [0, 25], "nice": false}}}},
  {"transform": [{"filter": "isValid(datum.f)"}], "mark": {"type": "line", "color": "black", "strokeWidth": 2, "clip": true},
   "encoding": {"x": {"field": "f", "type": "quantitative", "scale": {"type": "log", "domain": [0.105, 24], "nice": false}},
    "y": {"field": "m", "type": "quantitative", "scale": {"domain": [0, 25], "nice": false}}}},
  {"transform": [{"filter": "datum.k == 'label'"}], "mark": {"type": "text", "align": "right", "fontSize": 18},
   "encoding": {"x": {"datum": 13.6, "type": "quantitative", "scale": {"type": "log", "domain": [0.105, 24], "nice": false}},
    "y": {"datum": 21.6, "type": "quantitative", "scale": {"domain": [0, 25], "nice": false}}, "text": {"field": "main"}}},
  {"transform": [{"filter": "datum.k == 'label'"}], "mark": {"type": "text", "align": "left", "fontSize": 16, "fontStyle": "italic", "dx": 1, "dy": 7},
   "encoding": {"x": {"datum": 13.6, "type": "quantitative", "scale": {"type": "log", "domain": [0.105, 24], "nice": false}},
    "y": {"datum": 21.6, "type": "quantitative", "scale": {"domain": [0, 25], "nice": false}}, "text": {"field": "sub"}}}
 ]},
{"data": {"name": "cusso"}, "transform": [{"filter": "datum.r == 'HV' && datum.c == 2"}], "width": 182, "height": 124.5,
 "layer": [
  {"transform": [{"filter": "isValid(datum.f)"}], "mark": {"type": "area", "color": "#9b9b9b", "clip": true},
   "encoding": {
    "x": {"field": "f", "type": "quantitative", "scale": {"type": "log", "domain": [0.105, 24], "nice": false},
     "axis": {"title": "Frequency (Hz)", "values": [0.2,0.3,0.4,0.5,0.6,0.7,0.8,0.9,1,2,3,4,5,6,7,8,9,10,20], "labelOverlap": false, "labelFlush": false,
     "labelExpr": "abs(log(datum.value)/LN10 - round(log(datum.value)/LN10)) < 0.000001 ? (round(log(datum.value)/LN10) == 0 ? '10⁰' : '10¹') : ''",
     "gridDash": {"condition": {"test": "abs(log(datum.value)/LN10 - round(log(datum.value)/LN10)) < 0.000001", "value": []}, "value": [1, 3]},
     "gridColor": {"condition": {"test": "abs(log(datum.value)/LN10 - round(log(datum.value)/LN10)) < 0.000001", "value": "#d6d6d6"}, "value": "#a8a8a8"}}},
    "y": {"field": "lo", "type": "quantitative", "scale": {"domain": [0, 25], "nice": false}, "axis": {"title": null, "labels": false, "ticks": false, "values": [5, 10, 15, 20, 25]}},
    "y2": {"field": "hi"}}},
  {"transform": [{"filter": "datum.k == 'label'"}], "mark": {"type": "rule", "strokeDash": [2, 3], "color": "#222222"},
   "encoding": {"y": {"datum": 1, "type": "quantitative", "scale": {"domain": [0, 25], "nice": false}}}},
  {"transform": [{"filter": "isValid(datum.f)"}], "mark": {"type": "line", "color": "black", "strokeWidth": 2, "clip": true},
   "encoding": {"x": {"field": "f", "type": "quantitative", "scale": {"type": "log", "domain": [0.105, 24], "nice": false}},
    "y": {"field": "m", "type": "quantitative", "scale": {"domain": [0, 25], "nice": false}}}},
  {"transform": [{"filter": "datum.k == 'label'"}], "mark": {"type": "text", "align": "right", "fontSize": 18},
   "encoding": {"x": {"datum": 13.6, "type": "quantitative", "scale": {"type": "log", "domain": [0.105, 24], "nice": false}},
    "y": {"datum": 21.6, "type": "quantitative", "scale": {"domain": [0, 25], "nice": false}}, "text": {"field": "main"}}},
  {"transform": [{"filter": "datum.k == 'label'"}], "mark": {"type": "text", "align": "left", "fontSize": 16, "fontStyle": "italic", "dx": 1, "dy": 7},
   "encoding": {"x": {"datum": 13.6, "type": "quantitative", "scale": {"type": "log", "domain": [0.105, 24], "nice": false}},
    "y": {"datum": 21.6, "type": "quantitative", "scale": {"domain": [0, 25], "nice": false}}, "text": {"field": "sub"}}}
 ]}
]}
],
"config": {
"font": "DejaVu Sans",
"view": {"stroke": "black", "strokeWidth": 1},
"axis": {"domain": false, "labelFont": "DejaVu Sans", "titleFont": "DejaVu Sans", "labelFontSize": 16, "labelColor": "black", "titleFontSize": 18, "titleFontWeight": "normal", "titleColor": "black", "tickColor": "black", "tickSize": -4, "labelPadding": 8, "gridColor": "#d6d6d6", "gridWidth": 1},
"axisX": {"labelPadding": 15, "titlePadding": 9},
"axisY": {"titlePadding": 10},
"text": {"font": "DejaVu Sans", "color": "black", "baseline": "alphabetic"}
}
}
